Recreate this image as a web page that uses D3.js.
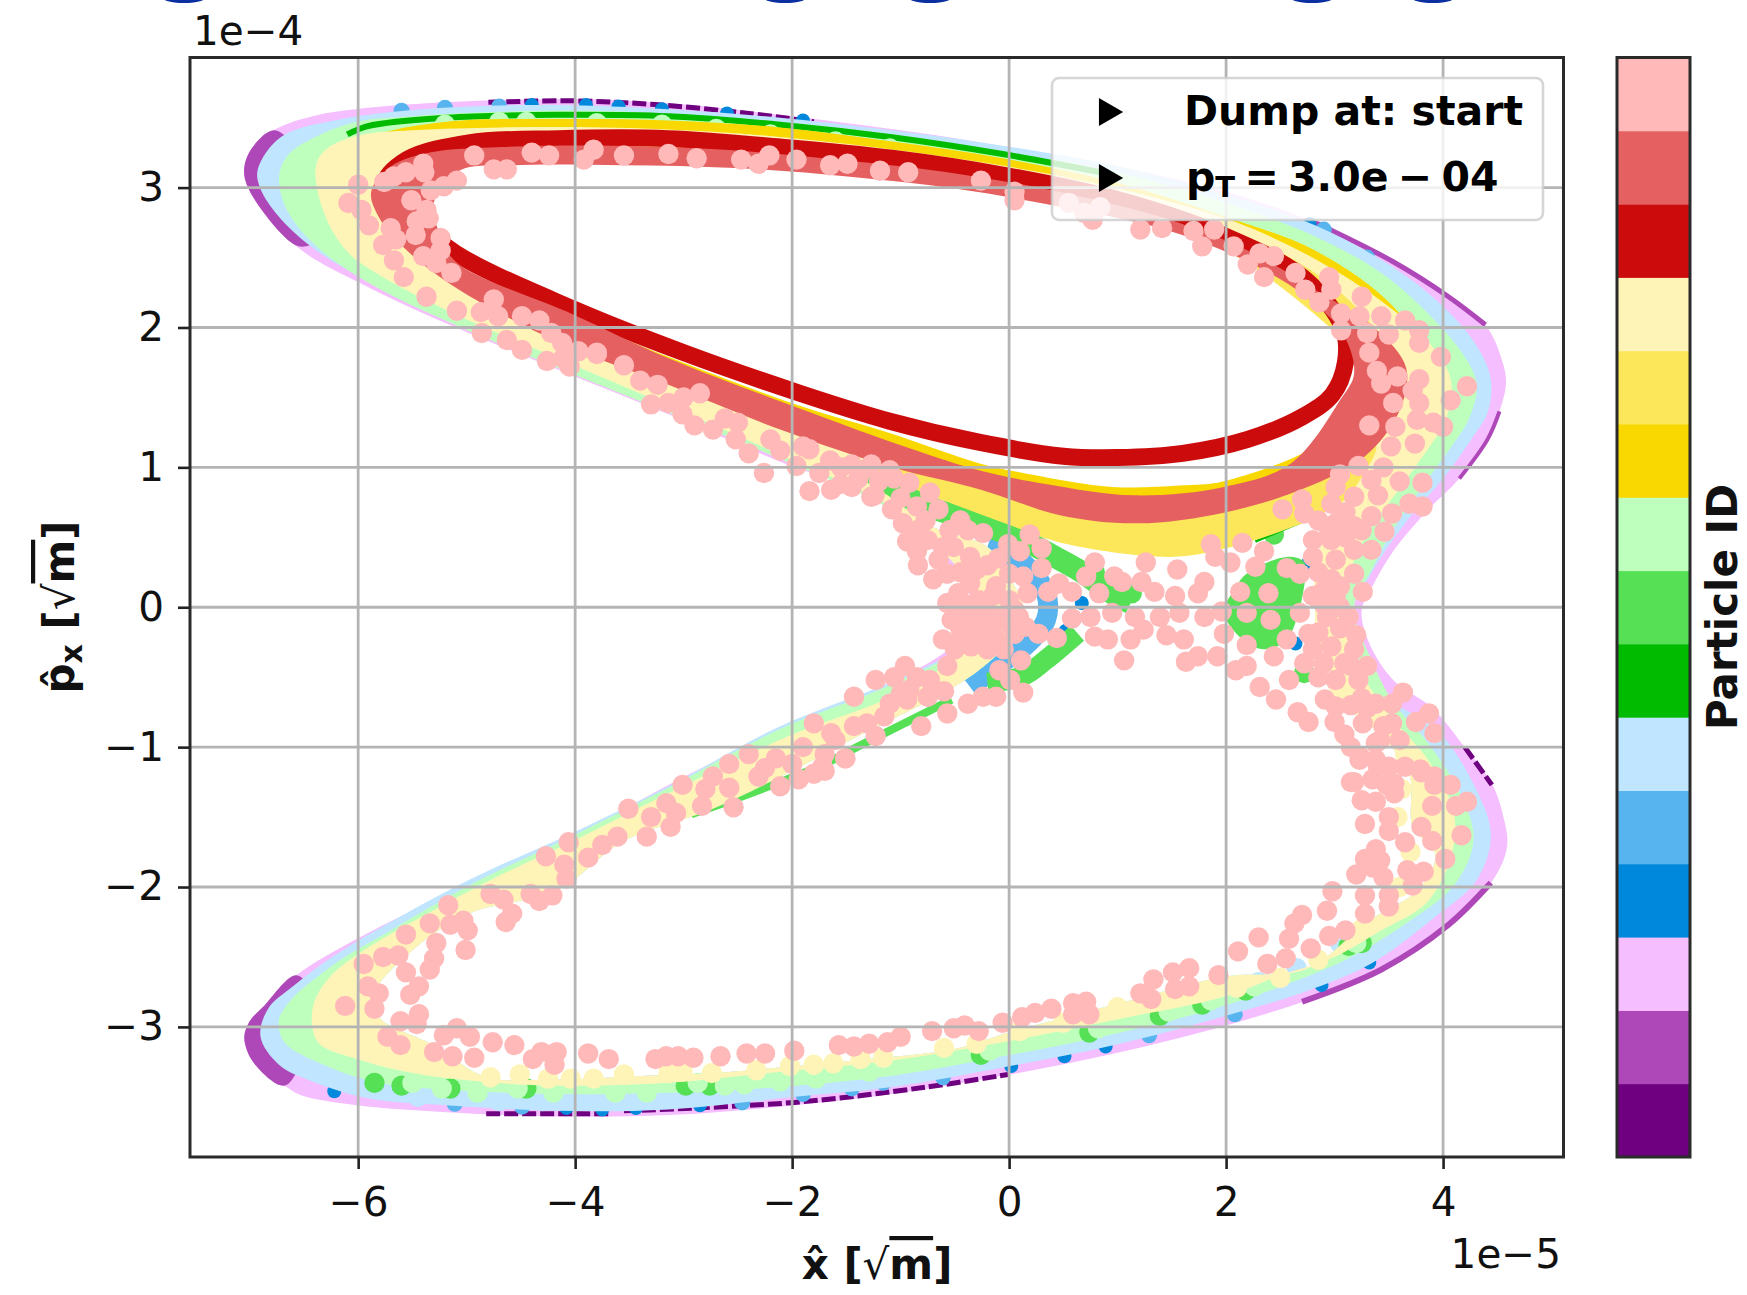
<!DOCTYPE html>
<html>
<head>
<meta charset="utf-8">
<script src="https://cdn.jsdelivr.net/npm/d3@7"></script>
<style>
  html, body { margin: 0; background: #fff; }
  svg { display: block; }
  text { font-family: "DejaVu Sans", sans-serif; fill: #111; }
</style>
</head>
<body>
<div id="container"></div>
<script>
/* CONSTANTS AND GLOBALS */
const width = 1747, height = 1295;

// Particle ID colours, id 0 at the bottom of the colorbar
const particleIds = d3.range(15);
const particleColors = ["#6F007F", "#AE48B8", "#F5BFFF", "#0088DD", "#58B4EE", "#BFE5FF", "#00BB00", "#55E055",
  "#BEFFBE", "#F8D800", "#FCE75A", "#FFF4B8", "#CC0C0C", "#E56060", "#FFB9B9"];

const xTicks = [-6, -4, -2, 0, 2, 4];
const yTicks = [-3, -2, -1, 0, 1, 2, 3];
const legendLabels = ["Dump at: start", "pT = 3.0e − 04"];

/* DATA: x in 1e-5, y in 1e-4 */
// outline of the light purple particle (ring around both lobes)
const lightPurpleOuter = [[-7.05,3.09],[-6.99,3.27],[-6.78,3.41],[-6.42,3.51],[-5.91,3.57],[-5.19,3.61],[-4.47,3.63],[-3.75,3.63],[-2.93,3.59],[-2.11,3.52],[-1.29,3.44],[-0.47,3.35],[0.35,3.24],[1.18,3.12],[2.0,2.97],[2.82,2.75],[3.54,2.47],[4.05,2.22],[4.39,2.02],[4.55,1.75],[4.58,1.60],[4.52,1.40],[4.41,1.20],[4.15,0.92],[3.84,0.68],[3.54,0.40],[3.33,0.12],[3.25,-0.02],[3.31,-0.24],[3.54,-0.52],[3.9,-0.72],[4.2,-1.0],[4.45,-1.26],[4.56,-1.51],[4.59,-1.71],[4.46,-1.95],[4.05,-2.27],[3.43,-2.59],[2.82,-2.79],[2.0,-2.99],[0.97,-3.19],[-0.06,-3.35],[-1.08,-3.48],[-2.11,-3.57],[-3.14,-3.63],[-4.16,-3.64],[-5.19,-3.61],[-6.01,-3.56],[-6.52,-3.49],[-6.66,-3.43],[-6.96,-3.26],[-7.05,-3.08],[-7.0,-2.96],[-6.88,-2.86],[-6.57,-2.63],[-6.01,-2.37],[-5.40,-2.13],[-5.03,-1.99],[-4.47,-1.78],[-3.96,-1.62],[-3.14,-1.27],[-2.11,-0.88],[-1.08,-0.54],[-0.47,-0.24],[-0.31,0],[-0.57,0.28],[-1.08,0.72],[-2.11,1.04],[-3.14,1.38],[-4.16,1.70],[-5.19,2.03],[-5.91,2.29],[-6.52,2.55],[-6.88,2.83]];
const lightBlueOuter = [[-6.93,3.11],[-6.83,3.27],[-6.65,3.39],[-6.22,3.48],[-5.70,3.54],[-4.98,3.58],[-4.16,3.59],[-3.14,3.56],[-2.11,3.50],[-1.08,3.41],[-0.06,3.30],[0.97,3.16],[2.00,2.95],[2.82,2.73],[3.54,2.43],[4.00,2.15],[4.31,1.87],[4.44,1.63],[4.41,1.39],[4.26,1.20],[4.00,0.92],[3.69,0.64],[3.43,0.36],[3.25,0.12],[3.16,-0.02],[3.25,-0.26],[3.49,-0.64],[3.95,-0.88],[4.31,-1.31],[4.44,-1.63],[4.31,-1.95],[3.90,-2.23],[3.33,-2.55],[2.72,-2.75],[2.00,-2.92],[0.97,-3.13],[-0.06,-3.29],[-1.08,-3.43],[-2.11,-3.51],[-3.14,-3.59],[-4.16,-3.60],[-5.19,-3.56],[-5.91,-3.51],[-6.42,-3.39],[-6.73,-3.27],[-6.90,-3.07],[-6.83,-2.87],[-6.60,-2.71],[-6.22,-2.49],[-5.70,-2.25],[-4.98,-1.95],[-3.96,-1.59],[-3.14,-1.28],[-2.11,-0.85],[-1.08,-0.53],[-0.42,-0.26],[-0.26,0],[-0.52,0.32],[-1.08,0.72],[-2.11,1.08],[-3.14,1.41],[-4.16,1.73],[-5.19,2.06],[-5.91,2.33],[-6.42,2.57],[-6.75,2.81],[-6.90,2.99]];
const lightGreenOuter = [[-6.73,3.07],[-6.65,3.23],[-6.37,3.37],[-6.01,3.47],[-5.50,3.51],[-4.78,3.54],[-3.96,3.55],[-3.14,3.53],[-2.11,3.47],[-1.08,3.38],[-0.06,3.26],[0.97,3.11],[2.00,2.89],[2.82,2.65],[3.43,2.39],[3.90,2.07],[4.20,1.79],[4.31,1.59],[4.24,1.35],[4.05,1.12],[3.79,0.84],[3.54,0.56],[3.35,0.28],[3.18,0],[3.33,-0.36],[3.54,-0.68],[3.85,-0.96],[4.17,-1.35],[4.28,-1.67],[4.10,-1.99],[3.64,-2.27],[3.13,-2.51],[2.51,-2.71],[1.89,-2.87],[0.97,-3.05],[-0.06,-3.21],[-1.08,-3.35],[-2.11,-3.43],[-3.14,-3.47],[-4.16,-3.48],[-5.19,-3.45],[-5.81,-3.40],[-6.32,-3.27],[-6.68,-3.11],[-6.73,-2.95],[-6.60,-2.79],[-6.39,-2.65],[-6.10,-2.49],[-5.70,-2.31],[-4.98,-1.99],[-3.96,-1.61],[-3.14,-1.29],[-2.11,-0.87],[-1.08,-0.55],[-0.39,-0.26],[-0.23,0],[-0.47,0.29],[-1.08,0.69],[-2.11,1.06],[-3.14,1.39],[-4.16,1.71],[-5.14,2.03],[-5.86,2.30],[-6.37,2.57],[-6.65,2.83]];
const lightYellowOuter = [[-6.39,3.15],[-6.30,3.27],[-6.01,3.37],[-5.50,3.41],[-4.68,3.43],[-3.75,3.43],[-2.73,3.40],[-1.70,3.33],[-0.67,3.23],[0.35,3.10],[1.38,2.92],[2.10,2.75],[2.82,2.49],[3.43,2.19],[3.85,1.91],[4.07,1.63],[4.03,1.35],[3.85,1.12],[3.59,0.84],[3.33,0.56],[3.15,0.28],[3.08,0],[3.18,-0.36],[3.49,-0.76],[3.85,-1.08],[4.10,-1.47],[4.07,-1.79],[3.85,-2.11],[3.43,-2.31],[2.97,-2.51],[2.51,-2.63],[1.95,-2.79],[0.97,-2.95],[-0.06,-3.11],[-1.08,-3.24],[-2.11,-3.32],[-3.14,-3.40],[-4.16,-3.42],[-4.88,-3.39],[-5.50,-3.33],[-6.01,-3.23],[-6.37,-3.11],[-6.42,-2.87],[-6.27,-2.65],[-5.86,-2.41],[-5.29,-2.16],[-4.78,-1.95],[-3.96,-1.65],[-3.14,-1.33],[-2.06,-0.93],[-0.98,-0.60],[-0.36,-0.26],[-0.21,0],[-0.47,0.28],[-1.03,0.69],[-2.11,1.09],[-3.14,1.44],[-4.16,1.78],[-5.09,2.09],[-5.75,2.35],[-6.11,2.55],[-6.32,2.83]];

// empty parts in the middle of the upper lobe and of the lower lobe
const upperHollow = [[-5.75,2.91],[-5.60,3.15],[-4.98,3.32],[-4.16,3.36],[-3.14,3.35],[-2.11,3.28],[-1.08,3.19],[-0.06,3.08],[0.97,2.95],[2.00,2.71],[2.82,2.39],[3.33,2.03],[3.54,1.71],[3.38,1.35],[3.05,1.27],[2.60,0.96],[2.00,0.80],[1.15,0.73],[-0.06,0.90],[-1.08,1.10],[-2.11,1.40],[-3.14,1.68],[-4.16,2.00],[-4.98,2.35],[-5.50,2.59]];
const lowerHollow = [[3.38,1.16],[3.18,0.84],[2.92,0.52],[2.82,0.28],[2.82,0],[2.84,-0.36],[3.00,-0.64],[3.38,-0.88],[3.69,-1.20],[3.72,-1.57],[3.93,-1.77],[3.77,-2.02],[3.32,-2.24],[2.73,-2.59],[1.99,-2.64],[1.13,-2.81],[0,-3.04],[-0.51,-3.16],[-1.29,-3.23],[-2.11,-3.29],[-2.73,-3.33],[-3.34,-3.35],[-4.33,-3.38],[-4.82,-3.36],[-5.31,-3.13],[-5.81,-2.93],[-5.85,-2.76],[-5.48,-2.44],[-4.98,-2.19],[-4.16,-2.02],[-3.55,-1.67],[-2.73,-1.44],[-1.95,-1.15],[-1.39,-0.92],[-0.53,-0.58],[-0.20,-0.40],[0.01,-0.23],[0.13,0],[0.01,0.20],[-0.20,0.43],[-0.69,0.57],[-1.10,0.79],[-1.39,0.96],[-1.08,1.02],[-0.06,0.82],[1.15,0.66],[2.00,0.73],[2.60,0.90],[3.07,1.16]];

// upper lobe rings
const goldOuter = [[-6.22,3.15],[-5.91,3.35],[-5.19,3.47],[-4.16,3.49],[-3.14,3.48],[-2.11,3.43],[-1.08,3.33],[-0.06,3.21],[0.97,3.04],[2.00,2.79],[2.82,2.55],[3.54,2.15],[3.90,1.71],[3.79,1.27],[3.43,1.00],[2.92,0.80],[2.00,0.68],[1.15,0.60],[-0.06,0.76],[-1.08,1.00],[-2.11,1.27],[-4.16,1.90],[-5.19,2.27],[-5.91,2.59]];
const goldInner = [[-5.70,2.91],[-5.40,3.31],[-4.16,3.39],[-2.11,3.31],[-0.06,3.07],[2.00,2.63],[3.03,2.03],[3.38,1.63],[2.92,1.20],[1.98,0.90],[1.57,0.87],[0.95,0.86],[0.13,0.96],[-0.28,1.03],[-1.08,1.24],[-1.93,1.44],[-3.14,1.79],[-4.16,2.12],[-5.19,2.48]];
const yellowOuter = [[-5.91,2.91],[-5.65,3.23],[-4.98,3.40],[-4.16,3.41],[-3.14,3.40],[-2.11,3.35],[-1.08,3.25],[-0.06,3.13],[0.97,2.97],[2.00,2.71],[2.82,2.43],[3.43,2.11],[3.76,1.71],[3.66,1.31],[3.42,0.96],[2.89,0.67],[2.60,0.57],[1.99,0.42],[1.49,0.36],[0.54,0.45],[-0.04,0.60],[-0.69,0.79],[-1.39,1.00],[-2.11,1.22],[-3.14,1.54],[-4.16,1.85],[-5.19,2.25],[-5.75,2.59]];
const yellowInner = [[-5.70,2.99],[-5.19,3.15],[-4.16,3.27],[-2.11,3.23],[0.97,2.83],[2.00,2.55],[3.03,1.95],[3.43,1.63],[3.03,1.20],[2.00,0.76],[1.15,0.69],[-0.06,0.88],[-1.08,1.10],[-2.11,1.36],[-3.14,1.68],[-4.16,2.00],[-5.19,2.40]];
const darkRedOrbit = [[-5.75,3.03],[-5.55,3.20],[-4.98,3.32],[-4.16,3.35],[-3.14,3.35],[-2.11,3.29],[-1.08,3.21],[-0.06,3.09],[0.97,2.92],[2.00,2.65],[2.72,2.35],[3.08,1.99],[3.10,1.75],[2.98,1.52],[2.70,1.36],[2.20,1.20],[1.60,1.10],[1.00,1.07],[0.50,1.08],[-0.28,1.18],[-1.10,1.33],[-1.93,1.53],[-3.00,1.82],[-4.01,2.13],[-5.10,2.53],[-5.50,2.79]];
const redOuter = [[-5.88,2.97],[-5.70,3.15],[-5.34,3.25],[-4.68,3.29],[-3.65,3.30],[-2.62,3.27],[-1.60,3.20],[-0.57,3.11],[0.46,2.97],[1.48,2.77],[2.20,2.55],[2.82,2.27],[3.38,1.99],[3.66,1.71],[3.59,1.39],[3.28,1.08],[2.72,0.85],[2.00,0.68],[1.18,0.60],[0.46,0.66],[-0.26,0.84],[-1.08,1.00],[-2.11,1.27],[-3.14,1.59],[-4.11,1.88],[-5.07,2.27],[-5.55,2.55],[-5.81,2.79]];
const redInner = [[-5.31,2.87],[-5.07,3.12],[-4.57,3.16],[-3.55,3.16],[-2.52,3.14],[-1.49,3.08],[-0.47,2.99],[0.56,2.85],[1.48,2.69],[2.20,2.47],[2.72,2.23],[3.08,1.95],[3.18,1.67],[3.05,1.48],[2.60,1.03],[1.98,0.86],[1.15,0.80],[0.35,0.88],[-0.28,0.98],[-1.08,1.18],[-1.93,1.42],[-3.14,1.78],[-4.01,2.09],[-5.10,2.47],[-5.24,2.66]];

// purple patches on the edge
const purpleUpperTip = [[-6.78,3.41],[-6.99,3.27],[-7.05,3.09],[-6.88,2.83],[-6.55,2.58],[-6.40,2.62],[-6.60,3.0],[-6.60,3.30]];
const purpleLowerTip = [[-6.68,-3.42],[-6.96,-3.26],[-7.05,-3.08],[-7.0,-2.96],[-6.88,-2.86],[-6.57,-2.63],[-6.40,-2.80],[-6.50,-3.20]];
const purpleEdges = [
  [[2.82,2.75],[3.54,2.47],[4.05,2.22],[4.39,2.02]],
  [[4.52,1.40],[4.41,1.20],[4.15,0.92]],
  [[4.44,-1.97],[4.05,-2.27],[3.43,-2.59],[2.70,-2.82]]
];
const darkPurpleEdges = [
  [[-4.8,3.61],[-4.0,3.62],[-3.2,3.59],[-2.4,3.53],[-1.8,3.47]],
  [[-4.82,-3.62],[-3.67,-3.62]],
  [[-3.55,-3.60],[-1.98,-3.54],[-0.76,-3.43],[-0.01,-3.34]],
  [[4.2,-1.0],[4.45,-1.27]]
];

// middle blue and green bits near the crossing
const midBlueArc = [[-0.20,0.43],[0.13,0.315],[0.34,0.10],[0.34,-0.09],[0.17,-0.26],[-0.07,-0.40],[-0.36,-0.57]];
const midGreenUpperArm = [[-1.39,0.98],[-1.10,0.86],[-0.81,0.74],[-0.28,0.60],[0.13,0.48],[0.42,0.36],[0.63,0.27],[0.95,0.10],[1.12,0.03]];
const midGreenLowerStrip = [[-2.93,-1.48],[-2.35,-1.32],[-1.70,-1.12],[-1.39,-0.995],[-0.53,-0.66]];
const midGreenLowerArm = [[-0.2,-0.54],[0.13,-0.49],[0.34,-0.375],[0.63,-0.185]];
const midGreenRightBlob = [[2.19,0.24],[2.56,0.36],[2.72,0.32],[2.72,0.15],[2.56,-0.23],[2.35,-0.30],[2.15,-0.23],[1.98,-0.04],[2.07,0.12]];
const midGreenDots = [[-5.85,-3.40],[-5.60,-3.42],[-5.15,-3.44],[-4.45,-3.44],[-2.98,-3.42],[-2.76,-3.42],[-0.26,-3.20],[0.74,-3.04],[1.39,-2.92],[1.78,-2.84],[2.18,-2.74],[3.13,-2.42],[3.25,-2.40],[2.72,-0.47],[0.79,0.25],[1.13,0.10],[2.44,0.52]];
const darkGreenTop = [[-6.10,3.38],[-5.91,3.44],[-5.19,3.50],[-4.16,3.52],[-3.14,3.51],[-2.11,3.45],[-1.08,3.36],[-0.06,3.24],[0.97,3.09]];
const darkGreenThin = [[2.27,0.47],[2.85,0.66]];

const midBlueDots = [[-5.11,-3.55],[-4.49,-3.57],[-2.46,-3.54],[-1.90,-3.48],[-1.45,-3.44],[-1.16,-3.40],[-0.61,-3.36],[1.29,-3.06],[2.08,-2.91],[-5.6,3.55],[-5.2,3.57],[-4.7,3.58],[2.9,2.70],[3.3,2.50]];
const darkBlueDots = [[-6.22,-3.46],[-4.08,-3.58],[-3.75,-3.59],[-3.44,-3.58],[-2.85,-3.56],[0.02,-3.28],[0.51,-3.21],[0.89,-3.14],[2.88,-2.70],[3.32,-2.54],[-4.4,3.59],[-3.9,3.59],[-3.6,3.58],[-3.2,3.56],[-2.6,3.53],[-1.9,3.48],[2.77,2.74],[0.67,0.03],[0.52,-0.17],[2.48,-0.04],[2.76,0.32],[2.64,-0.26],[-0.53,0.66]];
const darkPurpleDots = [[0.19,0.07]];

const lightBlueDots = [[-5.8,-3.45],[-5.45,-3.5],[-5.0,-3.5],[-4.7,-3.53],[-4.3,-3.53],[-4.0,-3.5],[-3.6,-3.51],[-3.3,-3.5],[-3.0,-3.48],[-2.65,-3.47],[-2.3,-3.46],[-2.0,-3.43],[-1.65,-3.38],[-1.3,-3.34],[-0.95,-3.3],[-0.5,-3.24],[-0.15,-3.2],[0.3,-3.12],[0.7,-3.06],[1.1,-3.0],[1.6,-2.87],[2.3,-2.68],[2.65,-2.58],[3.05,-2.4],[3.5,-2.14]];
const lightGreenDots = [[-5.23,-3.44],[-4.90,-3.47],[-4.53,-3.44],[-4.20,-3.47],[-3.63,-3.47],[-3.34,-3.47],[-2.87,-3.40],[-2.62,-3.42],[-2.44,-3.41],[-2.11,-3.39],[-1.78,-3.37],[-1.29,-3.32],[-5.5,-3.40],[-0.18,-3.17],[0.82,-3.01],[1.47,-2.89],[1.86,-2.81],[2.26,-2.71],[3.2,-2.40],[-5.95,3.33],[-5.55,3.38],[-5.20,3.45],[-4.70,3.47],[-4.45,3.47],[-3.8,3.46],[-3.2,3.45],[-2.7,3.42],[-2.2,3.38],[-1.6,3.33],[-1.1,3.28]];
const lightYellowDots = [[-4.78,-3.36],[-4.51,-3.34],[-4.25,-3.37],[-4.04,-3.37],[-3.83,-3.37],[-3.55,-3.34],[-3.14,-3.33],[-3.01,-3.32],[-2.74,-3.33],[-2.33,-3.31],[-2.02,-3.28],[-1.80,-3.27],[-1.62,-3.26],[-1.37,-3.23],[-1.16,-3.22],[3.65,-1.05],[3.62,-1.3],[3.58,-1.5],[3.7,-1.75],[3.6,-2.0],[3.25,-2.3],[2.85,-2.52],[2.5,-2.65],[2.1,-2.72],[1.75,-2.75],[1.0,-2.86],[0.5,-2.97],[0.1,-3.03],[-0.3,-3.12],[-0.6,-3.15]];

// the last particle, drawn as dots over everything else
const pinkDots = [
  // right part of the lower lobe
  [3.23,-1.09],[3.38,-1.09],[3.50,-1.14],[3.18,-1.25],[3.35,-1.23],[3.48,-1.27],[3.65,-1.14],[3.80,-1.18],[3.92,-1.27],[4.07,-1.27],[4.22,-1.39],[4.12,-1.42],[3.90,-1.42],[3.25,-1.38],[3.38,-1.39],[3.55,-1.33],[3.28,-1.55],[3.50,-1.50],[3.50,-1.60],[3.65,-1.68],[3.80,-1.57],[3.90,-1.67],[4.17,-1.63],[4.02,-1.80],[3.38,-1.73],[3.28,-1.80],[3.42,-1.81],[3.20,-1.91],[3.35,-1.86],[3.67,-1.88],[3.82,-1.89],[3.45,-1.93],[3.72,-1.99],[2.98,-2.03],[3.28,-2.06],[3.50,-2.06],[3.28,-2.19],[2.93,-2.17],[3.50,-2.14],[2.70,-2.20],[2.63,-2.26],[2.58,-2.37],[2.78,-2.44],[2.55,-2.51],[2.38,-2.55],[2.95,-2.35],[3.10,-2.31],[2.30,-2.36],[2.11,-2.46],[1.93,-2.63],[1.66,-2.58],[1.51,-2.61],[1.66,-2.71],[1.33,-2.66],[1.21,-2.76],[1.31,-2.80],[1.53,-2.73],[0.71,-2.82],[0.59,-2.83],[0.74,-2.91],[0.59,-2.91],[0.39,-2.87],[0.24,-2.90],[0.12,-2.93],[-0.06,-2.97],[-0.28,-3.03],[-0.41,-2.99],[-0.51,-3.01],[-0.71,-3.03],[-1.00,-3.07],
  // left part of the lower lobe
  [-2.58,-1.12],[-2.15,-1.08],[-1.51,-1.08],[-1.70,-1.17],[-1.94,-1.23],[-2.11,-1.28],[-2.31,-1.21],[-2.54,-1.43],[-2.58,-1.29],[-2.73,-1.21],[-2.83,-1.42],[-3.01,-1.27],[-3.07,-1.47],[-3.16,-1.40],[-3.12,-1.57],[-3.34,-1.64],[-3.51,-1.44],[-3.61,-1.64],[-3.88,-1.79],[-4.06,-1.68],[-4.27,-1.78],[-4.10,-1.84],[-4.08,-1.94],[-4.41,-2.05],[-4.21,-2.06],[-4.33,-2.10],[-4.78,-2.05],[-4.66,-2.09],[-4.58,-2.19],[-4.64,-2.25],[-5.17,-2.13],[-5.03,-2.24],[-5.34,-2.26],[-5.15,-2.27],[-4.99,-2.31],[-5.01,-2.45],[-5.28,-2.40],[-5.30,-2.51],[-5.34,-2.59],[-5.56,-2.61],[-5.44,-2.71],[-5.52,-2.77],[-5.63,-2.49],[-5.77,-2.50],[-5.56,-2.34],[-5.95,-2.55],[-5.91,-2.71],[-5.81,-2.76],[-5.85,-2.87],[-6.12,-2.85],[-5.44,-2.91],[-5.61,-2.96],[-5.46,-2.98],[-5.73,-3.07],[-5.61,-3.13],[-5.21,-3.06],[-5.09,-3.01],[-4.97,-3.07],[-4.76,-3.11],[-4.56,-3.13],[-5.30,-3.18],[-5.13,-3.21],[-4.93,-3.22],[-4.39,-3.23],[-4.31,-3.18],[-4.17,-3.18],[-4.19,-3.27],[-3.88,-3.19],[-3.69,-3.23],[-3.26,-3.23],[-3.16,-3.21],[-3.05,-3.21],[-2.91,-3.22],[-2.66,-3.21],[-2.42,-3.19],[-2.25,-3.19],[-1.98,-3.17],[-1.57,-3.13],[-1.43,-3.14],[-1.29,-3.12],[-1.12,-3.11],
  // around the crossing
  [-1.84,1.13],[-1.84,0.83],[-1.64,0.84],[-1.45,0.86],[-1.27,1.02],[-1.27,0.79],[-1.06,0.92],[-0.92,0.89],[-0.73,0.82],[-1.08,0.70],[-0.98,0.60],[-0.94,0.47],[-0.84,0.30],[-0.77,0.62],[-0.75,0.48],[-0.65,0.34],[-0.57,0.24],[-0.61,0.43],[-0.38,0.55],[-0.51,0.43],[-0.36,0.36],[-0.30,0.27],[-0.36,0.17],[-0.24,0.53],[-0.01,0.45],[0.19,0.52],[0.30,0.42],[0.30,0.28],[0.46,0.17],[0.36,0.11],[0.79,0.32],[0.71,0.22],[0.97,0.22],[1.04,0.18],[0.83,0.10],[0.58,0.11],[1.26,0.32],[1.22,0.18],[1.34,0.11],[1.55,0.27],[1.53,0.08],[1.80,0.18],[1.74,0.10],[1.86,0.45],[1.90,0.36],[2.04,0.32],[2.15,0.46],[2.35,0.40],[2.27,0.29],[2.56,0.28],[2.39,0.10],[2.13,0.11],[2.19,-0.04],[2.41,-0.09],[1.96,-0.03],[1.80,-0.07],[1.39,-0.07],[1.57,-0.04],[1.16,-0.07],[0.95,-0.04],[0.75,-0.07],[0.58,-0.08],[-0.57,0.03],[-0.47,0.10],[-0.28,0.05],[-0.12,0.15],[0,0.24],[0.13,0.22],[0.17,0.10],[-0.20,-0.04],[-0.53,-0.09],[-0.36,-0.07],[-0.07,-0.07],[0.09,-0.07],[-0.61,-0.23],[-0.44,-0.19],[-0.24,-0.19],[-0.12,-0.23],[0.05,-0.19],[0.27,-0.19],[0.44,-0.22],[0.79,-0.21],[0.91,-0.23],[1.24,-0.16],[1.45,-0.20],[1.06,-0.38],[1.12,-0.23],[1.61,-0.23],[1.63,-0.39],[1.74,-0.35],[1.92,-0.35],[1.98,-0.19],[2.09,-0.45],[2.19,-0.42],[2.31,-0.57],[2.46,-0.66],[2.66,-0.75],[2.76,-0.82],[2.58,-0.52],[2.44,-0.35],[2.19,-0.27],[2.56,-0.23],[2.76,-0.19],[2.68,-0.04],[2.93,-0.07],[3.13,-0.07],[2.80,0.08],[3.01,0.08],[3.26,0.11],[2.68,0.24],[2.80,0.36],[2.97,0.48],[2.52,0.70],[2.70,0.77],[2.72,0.67],[2.97,0.74],[3.01,0.86],[3.22,1.01],[3.34,0.91],[3.18,0.79],[3.34,0.65],[3.53,0.67],[3.46,0.54],[3.69,0.74],[3.81,0.72],[3.81,0.89],[3.18,0.58],[3.01,0.60],[2.80,0.48],[3.18,0.41],[3.34,0.41],[3.01,0.34],[3.18,0.24],[2.97,0.20],[2.80,-0.30],[2.97,-0.28],[3.18,-0.30],[2.72,-0.40],[3.30,-0.42],[3.09,-0.40],[2.85,-0.50],[3.01,-0.52],[3.22,-0.52],[2.91,-0.66],[3.01,-0.71],[3.38,-0.69],[3.63,-0.61],[3.53,-0.69],[3.87,-0.76],[3.75,-0.82],[3.53,-0.83],[3.92,-0.90],[3.42,-0.95],[3.09,-0.91],[3.26,-0.83],[3.24,-1.07],[3.38,-0.97],[3.40,-1.14],[3.15,-1.25],[3.55,-1.26],[3.79,-1.16],[3.92,-1.21],[-0.09,-0.45],[0.11,-0.38],[0.01,-0.52],[0.13,-0.61],[-0.12,-0.64],[-0.24,-0.64],[-0.38,-0.69],[-0.57,-0.76],[-0.81,-0.85],[-1.23,-0.52],[-0.96,-0.42],[-1.43,-0.64],[-1.06,-0.50],[-1.10,-0.69],[-0.92,-0.59],[-0.75,-0.64],[-0.57,-0.42],[-1.23,-0.92],[-1.31,-0.83],[-1.51,-1.08],[-1.72,-1.14],[-1.80,-1.19],[-1.80,-0.83],[-1.64,-0.90],[-1.43,-0.85],[-0.73,-0.52],[-0.94,-0.66],
  // denser spots near the crossing
  [-0.45,0.25],[-0.2,0.3],[-0.1,0.35],[0.1,0.4],[-0.5,-0.02],[-0.35,0.02],[-0.15,0.08],[0,0.05],[0.05,-0.02],[-0.45,-0.15],[-0.3,-0.15],[-0.15,-0.12],[0,-0.12],[0.15,-0.14],[-0.5,-0.3],[-0.35,-0.28],[-0.2,-0.3],[-0.05,-0.3],[-0.85,0.55],[-0.85,0.4],[-0.7,0.2],[-0.65,0.7],[-0.55,0.55],[-0.45,0.62],[-1.0,0.78],[-0.85,0.72],[-1.2,0.9],[-1.35,0.98],[-1.55,1.0],
  [2.85,0.25],[3.05,0.15],[2.9,0.12],[2.9,0.02],[3.05,0],[2.85,-0.18],[3.05,-0.15],[3.2,-0.2],[2.9,-0.4],[3.15,-0.42],[2.95,0.55],[3.1,0.5],[3.1,0.68],[2.85,0.62],[3.25,0.55],[3.0,-0.82],[3.15,-0.7],[3.25,-0.65],[3.15,-1.0],[3.3,-0.72],[3.45,-0.85],[3.6,-0.95],[3.05,0.95],[3.4,0.8],[3.45,1.0],[3.6,0.9],
  [-2.4,-1.05],[-2.0,-1.12],[-1.9,-1.0],[-1.6,-0.95],[-1.15,-0.78],[-1.0,-0.62],[-0.85,-0.5],[-0.6,-0.6],[-2.8,-1.3],[-3.3,-1.5],[-3.75,-1.7],[-2.25,-1.15],[-1.7,-1.05],
  // upper left of the upper lobe
  [-4.93,3.23],[-5.40,3.17],[-5.56,3.11],[-5.67,3.08],[-5.39,3.11],[-5.76,3.04],[-5.09,3.05],[-5.21,3.01],[-5.33,2.98],[-4.75,3.13],[-4.63,3.13],[-4.40,3.25],[-4.24,3.23],[-3.92,3.20],[-3.83,3.27],[-6.00,3.02],[-6.09,2.89],[-5.97,2.84],[-5.51,2.91],[-5.37,2.84],[-5.35,2.78],[-5.46,2.76],[-5.47,2.66],[-5.90,2.73],[-5.70,2.71],[-5.65,2.63],[-5.77,2.59],[-5.24,2.64],[-5.24,2.55],[-5.40,2.51],[-5.28,2.46],[-5.14,2.39],[-5.67,2.48],[-5.58,2.36],[-5.37,2.22],[-5.09,2.12],[-4.86,1.96],[-4.87,2.11],[-4.75,2.20],[-4.71,2.08],[-4.63,1.91],[-4.49,1.84],[-4.49,2.08],[-4.33,2.05],[-4.22,1.96],[-4.12,1.89],[-4.26,1.76],[-4.05,1.72],[-3.97,1.83],[-3.80,1.82],
  // lower band of the upper lobe
  [-4.11,1.78],[-3.80,1.81],[-3.55,1.73],[-3.24,1.59],[-3.14,1.46],[-3.01,1.38],[-2.85,1.53],[-2.73,1.27],[-2.62,1.35],[-2.52,1.20],[-2.26,0.96],[-2.11,1.12],[-1.96,1.01],[-1.75,0.96],[-1.55,0.88],[-1.39,0.92],[-1.24,0.80],
  [-3.4,1.62],[-3.3,1.45],[-3.0,1.5],[-2.9,1.3],[-2.5,1.32],[-2.4,1.1],[-2.2,1.2],[-1.9,1.15],[-1.65,1.05],[-1.45,1.02],[-1.1,0.98],
  // top band of the upper lobe
  [-3.55,3.23],[-3.14,3.24],[-2.88,3.21],[-2.47,3.20],[-2.31,3.17],[-2.21,3.23],[-1.96,3.20],[-1.65,3.16],[-1.49,3.17],[-1.19,3.12],[-0.93,3.11],[-0.26,3.05],[0.05,2.97],
  // right of the upper lobe
  [0.05,2.91],[0.55,2.89],[0.69,2.82],[0.77,2.77],[0.84,2.86],[1.21,2.70],[1.41,2.71],[1.70,2.69],[1.78,2.58],[1.89,2.70],[2.07,2.58],[2.20,2.45],[2.35,2.36],[2.31,2.53],[2.44,2.51],[2.64,2.39],[2.73,2.27],[2.95,2.36],[2.97,2.27],[3.25,2.22],[2.86,2.18],[3.06,2.10],[3.23,2.08],[3.43,2.08],[3.65,2.05],[3.78,1.98],[3.06,1.98],[3.30,1.96],[3.50,1.95],[3.32,1.82],[3.39,1.69],[3.43,1.60],[3.58,1.65],[3.78,1.89],[3.78,1.63],[3.98,1.79],[4.07,1.48],[4.22,1.58],[3.72,1.55],[3.54,1.46],[3.78,1.46],[3.32,1.30],[3.56,1.29],[3.76,1.34],[3.91,1.32],[4.00,1.29],[3.52,1.15],[3.74,1.17]
];

/* SCALES */
const x = d3.scaleLinear().domain([-7.55, 5.11]).range([190, 1563.5]);
const y = d3.scaleLinear().domain([-3.93, 3.93]).range([1157, 57.5]);
const barY = d3.scaleBand().domain(particleIds).range([1157, 57.5]);

const closed = d3.line().x(d => x(d[0])).y(d => y(d[1])).curve(d3.curveCatmullRomClosed.alpha(0.5));
const open = d3.line().x(d => x(d[0])).y(d => y(d[1])).curve(d3.curveCatmullRom.alpha(0.5));

/* HTML ELEMENTS */
const svg = d3.select("#container").append("svg")
  .attr("width", width)
  .attr("height", height);

// cut off bits of something above the figure
const cropBits = [184, 785, 930, 1312, 1433];
svg.selectAll("ellipse.crop").data(cropBits).enter().append("ellipse")
  .attr("class", "crop")
  .attr("cx", d => d).attr("cy", -5).attr("rx", 25).attr("ry", 8)
  .attr("fill", "#0b2fa0");

const plot = svg.append("g");

function ring(outer, holes, color) {
  plot.append("path")
    .attr("d", [outer].concat(holes).map(p => closed(p)).join(" "))
    .attr("fill", color)
    .attr("fill-rule", "evenodd");
}
function stroke(points, color, w, dash) {
  plot.append("path")
    .attr("d", open(points))
    .attr("fill", "none")
    .attr("stroke", color)
    .attr("stroke-width", w)
    .attr("stroke-dasharray", dash || null);
}
function dots(points, color, r) {
  plot.append("g").selectAll("circle")
    .data(points)
    .enter().append("circle")
    .attr("cx", d => x(d[0]))
    .attr("cy", d => y(d[1]))
    .attr("r", r)
    .attr("fill", color);
}

const dotR = 10.2;
const hollows = [upperHollow, lowerHollow];
const [darkPurple, midPurple, lightPurple, darkBlue, midBlue, lightBlue, darkGreen, midGreen, lightGreen,
  gold, yellow, lightYellow, darkRed, red, pink] = particleColors;

// painted in particle id order, last id on top
ring(lightPurpleOuter, hollows, lightPurple);
ring(purpleUpperTip, [], midPurple);
ring(purpleLowerTip, [], midPurple);
stroke(purpleEdges[0], midPurple, 5);
stroke(purpleEdges[1], midPurple, 4);
stroke(purpleEdges[2], midPurple, 6);
darkPurpleEdges.forEach(p => stroke(p, darkPurple, 5, "14 4"));
dots(darkBlueDots, darkBlue, 7);
dots(midBlueDots, midBlue, 8);
stroke(midBlueArc, midBlue, 20);
dots(darkPurpleDots, darkPurple, 5);
ring(lightBlueOuter, hollows, lightBlue);
dots(lightBlueDots, lightBlue, dotR);
ring(lightGreenOuter, hollows, lightGreen);
stroke(midGreenUpperArm, midGreen, 22);
stroke(midGreenLowerStrip, midGreen, 8);
stroke(midGreenLowerArm, midGreen, 20);
plot.append("path").attr("d", closed(midGreenRightBlob)).attr("fill", midGreen);
dots(midGreenDots, midGreen, dotR);
stroke(darkGreenTop, darkGreen, 6);
stroke(darkGreenThin, darkGreen, 2.5);
dots(lightGreenDots, lightGreen, dotR);
ring(goldOuter, [goldInner], gold);
ring(yellowOuter, [yellowInner], yellow);
ring(lightYellowOuter, hollows, lightYellow);
dots(lightYellowDots, lightYellow, dotR);
plot.append("path").attr("d", closed(darkRedOrbit))
  .attr("fill", "none").attr("stroke", darkRed).attr("stroke-width", 17);
ring(redOuter, [redInner], red);
dots(pinkDots, pink, dotR);

// GRID goes over the points
const grid = svg.append("g").attr("stroke", "#b4b4b4").attr("stroke-width", 2.8);
grid.selectAll("line.gx").data(xTicks).enter().append("line").attr("class", "gx")
  .attr("x1", d => x(d)).attr("x2", d => x(d)).attr("y1", y.range()[0]).attr("y2", y.range()[1]);
grid.selectAll("line.gy").data(yTicks).enter().append("line").attr("class", "gy")
  .attr("y1", d => y(d)).attr("y2", d => y(d)).attr("x1", x.range()[0]).attr("x2", x.range()[1]);

// AXES
const tickText = d => String(d).replace("-", "\u2212");
const xAxis = svg.append("g")
  .attr("transform", `translate(0,${y.range()[0]})`)
  .call(d3.axisBottom(x).tickValues(xTicks).tickFormat(tickText).tickSize(12).tickPadding(18));
const yAxis = svg.append("g")
  .attr("transform", `translate(${x.range()[0]},0)`)
  .call(d3.axisLeft(y).tickValues(yTicks).tickFormat(tickText).tickSize(12).tickPadding(14));
[xAxis, yAxis].forEach(a => {
  a.select(".domain").remove();
  a.selectAll(".tick line").attr("stroke", "#222").attr("stroke-width", 2.6);
  a.selectAll("text").attr("font-size", 40.5).attr("font-family", "DejaVu Sans").attr("fill", "#111");
});

// frame
svg.append("rect")
  .attr("x", x.range()[0]).attr("y", y.range()[1])
  .attr("width", x.range()[1] - x.range()[0]).attr("height", y.range()[0] - y.range()[1])
  .attr("fill", "none").attr("stroke", "#2a2a2a").attr("stroke-width", 3);

// offset labels
svg.append("text").attr("x", 193).attr("y", 45).attr("font-size", 40.5).text("1e\u22124");
svg.append("text").attr("x", 1561).attr("y", 1268).attr("text-anchor", "end").attr("font-size", 40.5).text("1e\u22125");

// axis titles
const xTitle = svg.append("text")
  .attr("x", 877).attr("y", 1279).attr("text-anchor", "middle")
  .attr("font-size", 42).attr("font-weight", "bold");
xTitle.append("tspan").text("x\u0302 [");
xTitle.append("tspan").attr("font-weight", "normal").text("\u221A");
xTitle.append("tspan").style("text-decoration", "overline").text("m");
xTitle.append("tspan").text("]");

const yTitle = svg.append("text")
  .attr("transform", "translate(74,607) rotate(-90)").attr("text-anchor", "middle")
  .attr("font-size", 42).attr("font-weight", "bold");
yTitle.append("tspan").text("p\u0302");
yTitle.append("tspan").attr("font-size", 30).attr("dy", 8).text("x");
yTitle.append("tspan").attr("dy", -8).text(" [");
yTitle.append("tspan").attr("font-weight", "normal").text("\u221A");
yTitle.append("tspan").style("text-decoration", "overline").text("m");
yTitle.append("tspan").text("]");

// COLORBAR
const barX = 1617, barW = 73;
svg.append("g").selectAll("rect")
  .data(particleIds)
  .enter().append("rect")
  .attr("x", barX)
  .attr("y", d => barY(d))
  .attr("width", barW)
  .attr("height", barY.bandwidth() + 0.5)
  .attr("fill", d => particleColors[d]);
svg.append("rect")
  .attr("x", barX).attr("y", y.range()[1]).attr("width", barW).attr("height", y.range()[0] - y.range()[1])
  .attr("fill", "none").attr("stroke", "#2a2a2a").attr("stroke-width", 3);
svg.append("text")
  .attr("transform", "translate(1737,607) rotate(-90)").attr("text-anchor", "middle")
  .attr("font-size", 42).attr("font-weight", "bold").text("Particle ID");

// LEGEND
svg.append("rect")
  .attr("x", 1052).attr("y", 78).attr("width", 491).attr("height", 142).attr("rx", 7)
  .attr("fill", "#fff").attr("fill-opacity", 0.8)
  .attr("stroke", "#ccc").attr("stroke-opacity", 0.8).attr("stroke-width", 2.6);
const legendY = [112, 178], baseY = [125, 191];
legendY.forEach(v => {
  svg.append("path")
    .attr("d", d3.symbol(d3.symbolTriangle, 340)())
    .attr("transform", `translate(1107,${v}) rotate(90)`)
    .attr("fill", "#000");
});
svg.append("text").attr("x", 1184).attr("y", baseY[0])
  .attr("font-size", 41).attr("font-weight", "bold").style("fill", "#000").text(legendLabels[0]);
const pT = svg.append("text").attr("x", 1186).attr("y", baseY[1])
  .attr("font-size", 41).attr("font-weight", "bold").style("fill", "#000").attr("word-spacing", -5);
pT.append("tspan").text("p");
pT.append("tspan").attr("font-size", 29).attr("dy", 6).text("T");
pT.append("tspan").attr("dy", -6).text(legendLabels[1].slice(2));
</script>
</body>
</html>
